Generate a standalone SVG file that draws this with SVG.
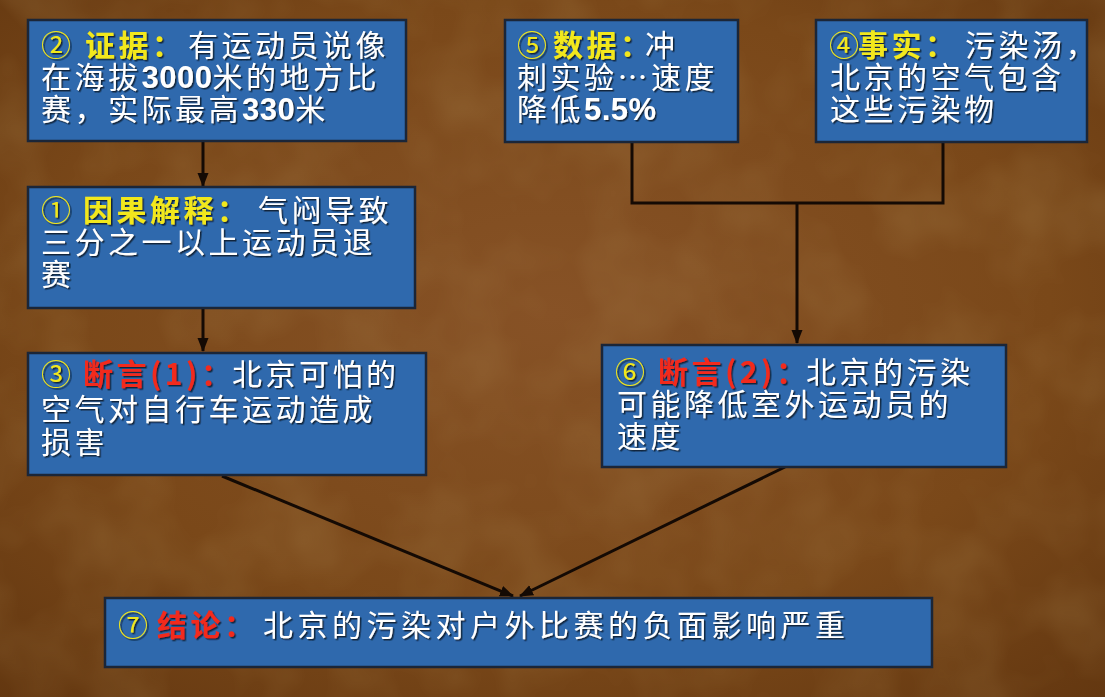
<svg xmlns="http://www.w3.org/2000/svg" width="1105" height="697" viewBox="0 0 1105 697">
  <defs>
    <radialGradient id="bgGrad" cx="0.5" cy="0.45" r="0.75">
      <stop offset="0" stop-color="#875226"/>
      <stop offset="0.6" stop-color="#7a4819"/>
      <stop offset="1" stop-color="#633710"/>
    </radialGradient>
    <filter id="grain" x="0" y="0" width="100%" height="100%">
      <feTurbulence type="fractalNoise" baseFrequency="0.012" numOctaves="3" seed="7"/>
      <feColorMatrix type="matrix" values="0 0 0 0 0.45  0 0 0 0 0.28  0 0 0 0 0.1  0 0 0 1.2 -0.45"/>
    </filter>
    <filter id="txtShadow" x="-5%" y="-20%" width="110%" height="140%">
      <feDropShadow dx="1.5" dy="1.5" stdDeviation="0.6" flood-color="#0c1a30" flood-opacity="0.9"/>
    </filter>
    <marker id="arrow" markerUnits="userSpaceOnUse" markerWidth="14" markerHeight="14" refX="13" refY="7" orient="auto">
      <path d="M0,1.5 L14,7 L0,12.5 z" fill="#140a04"/>
    </marker>
    <style>
      .box { fill: #2f69ad; stroke: #1b2638; stroke-width: 2.5; }
      .t { font-family: "Noto Sans CJK SC", "Liberation Sans", sans-serif; font-size: 30px; fill: #ffffff; letter-spacing: 3.5px; filter: url(#txtShadow); }
      .num { font-family: "Liberation Sans", "Noto Sans CJK SC", sans-serif; font-weight: bold; font-size: 31px; letter-spacing: 0.5px; }
      .y { fill: #f2e81c; font-weight: bold; }
      .r { fill: #f22a1e; font-weight: bold; }
      .c { fill: #f2e81c; }
      .wire { fill: none; stroke: #140a04; stroke-width: 3; }
    </style>
  </defs>

  <!-- background -->
  <rect width="1105" height="697" fill="url(#bgGrad)"/>
  <rect width="1105" height="697" filter="url(#grain)" opacity="0.35"/>

  <!-- connectors -->
  <g id="connectors">
    <line class="wire" x1="203" y1="141" x2="203" y2="186" marker-end="url(#arrow)"/>
    <line class="wire" x1="203" y1="309" x2="203" y2="351" marker-end="url(#arrow)"/>
    <polyline class="wire" points="632,142 632,203 943,203 943,142"/>
    <line class="wire" x1="797" y1="203" x2="797" y2="343" marker-end="url(#arrow)"/>
    <line class="wire" x1="222" y1="476" x2="513" y2="596" marker-end="url(#arrow)"/>
    <line class="wire" x1="785" y1="467" x2="520" y2="596" marker-end="url(#arrow)"/>
  </g>

  <!-- ② evidence -->
  <g id="node-evidence">
    <rect class="box" x="28" y="20" width="378" height="121"/>
    <text class="t" y="56"><tspan x="41" class="c">②</tspan><tspan x="85" class="y">证据：</tspan><tspan x="188">有运动员说像</tspan></text>
    <text class="t" y="88" x="41">在海拔<tspan class="num">3000</tspan>米的地方比</text>
    <text class="t" y="120" x="41">赛，实际最高<tspan class="num">330</tspan>米</text>
  </g>

  <!-- ⑤ data -->
  <g id="node-data">
    <rect class="box" x="505" y="20" width="233" height="122"/>
    <text class="t" y="56"><tspan x="517" class="c">⑤</tspan><tspan x="553" class="y">数据：</tspan><tspan x="645">冲</tspan></text>
    <text class="t" y="88" x="517">刺实验…速度</text>
    <text class="t" y="120" x="517">降低<tspan class="num">5.5%</tspan></text>
  </g>

  <!-- ④ fact -->
  <g id="node-fact">
    <rect class="box" x="816" y="20" width="271" height="122"/>
    <text class="t" y="56"><tspan x="829" class="c">④</tspan><tspan x="858" class="y">事实：</tspan><tspan x="965">污染汤，</tspan></text>
    <text class="t" y="88" x="830">北京的空气包含</text>
    <text class="t" y="120" x="830">这些污染物</text>
  </g>

  <!-- ① causal explanation -->
  <g id="node-cause">
    <rect class="box" x="28" y="187" width="387" height="121"/>
    <text class="t" y="221"><tspan x="41" class="c">①</tspan><tspan x="83" class="y">因果解释：</tspan><tspan x="258">气闷导致</tspan></text>
    <text class="t" y="253" x="41">三分之一以上运动员退</text>
    <text class="t" y="285" x="41">赛</text>
  </g>

  <!-- ③ claim 1 -->
  <g id="node-claim1">
    <rect class="box" x="28" y="353" width="398" height="122"/>
    <text class="t" y="385"><tspan x="41" class="c">③</tspan><tspan x="83" class="r">断言(1)：</tspan><tspan x="232">北京可怕的</tspan></text>
    <text class="t" y="420" x="41">空气对自行车运动造成</text>
    <text class="t" y="453" x="41">损害</text>
  </g>

  <!-- ⑥ claim 2 -->
  <g id="node-claim2">
    <rect class="box" x="602" y="345" width="404" height="122"/>
    <text class="t" y="383"><tspan x="615" class="c">⑥</tspan><tspan x="658" class="r">断言(2)：</tspan><tspan x="806">北京的污染</tspan></text>
    <text class="t" y="415" x="617">可能降低室外运动员的</text>
    <text class="t" y="447" x="617">速度</text>
  </g>

  <!-- ⑦ conclusion -->
  <g id="node-conclusion">
    <rect class="box" x="105" y="598" width="827" height="69"/>
    <text class="t" y="636"><tspan x="118" class="c">⑦</tspan><tspan x="157" class="r">结论：</tspan><tspan x="263" style="letter-spacing:4.5px">北京的污染对户外比赛的负面影响严重</tspan></text>
  </g>
</svg>
